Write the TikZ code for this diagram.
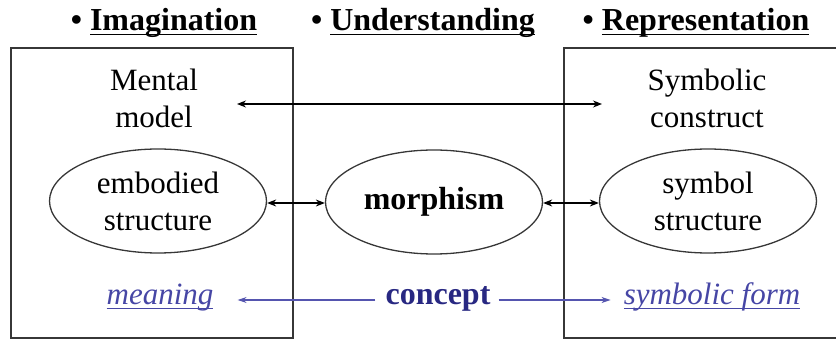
\documentclass[tikz,border=0pt]{standalone}
\usepackage{fontspec}
\setmainfont{LiberationSerif}[Extension=.ttf, UprightFont=*-Regular, BoldFont=*-Bold, ItalicFont=*-Italic, BoldItalicFont=*-BoldItalic]
\usetikzlibrary{shapes.geometric,arrows.meta,calc}
\definecolor{linegray}{RGB}{55,55,55}
\definecolor{conceptblue}{RGB}{40,40,130}
\definecolor{formblue}{RGB}{70,70,165}
\definecolor{arrowblue}{RGB}{85,85,175}
% underline at a fixed distance below the baseline, ignoring descenders
\newcommand{\lowline}[1]{\leavevmode\setbox0\hbox{#1}\dp0=0pt\vtop{\box0\kern3pt\hrule height 1.2pt}}
\tikzset{
  heading/.style={anchor=base, inner sep=0pt, font=\fontsize{32}{38}\selectfont\bfseries},
  bodytext/.style={align=center, inner sep=0pt, font=\fontsize{31}{37}\selectfont},
  blob/.style={ellipse, draw=linegray, line width=1.3pt, inner sep=0pt,
    minimum width=217pt, minimum height=104pt, align=center,
    font=\fontsize{31}{37}\selectfont},
  frame/.style={draw=linegray, line width=1.8pt},
  link/.style={draw=black, line width=1.2pt, {Stealth[length=9pt,width=7pt]}-{Stealth[length=9pt,width=7pt]}},
  bluelink/.style={draw=arrowblue, line width=1.2pt, -{Stealth[length=9pt,width=6pt]}},
  bluetext/.style={anchor=base, inner sep=0pt, font=\fontsize{31}{37}\selectfont},
}
\begin{document}
\begin{tikzpicture}[x=1pt,y=-1pt]
\useasboundingbox (0,0) rectangle (836,339);

% section headings
\node[heading] (himag) at (164,31) {\textbullet\ \lowline{Imagination}};
\node[heading] (hund)  at (423,31) {\textbullet\ \lowline{Understanding}};
\node[heading] (hrep)  at (696,31) {\textbullet\ \lowline{Representation}};

% side frames (the right one runs off the page edge)
\draw[frame] (11,48) rectangle (293,338);
\draw[frame] (845,48) -- (564,48) -- (564,338) -- (845,338);

% top row
\node[bodytext] (mental) at (154,98) {Mental\\model};
\node[bodytext] (symcon) at (707,98) {Symbolic\\construct};
\coordinate (mentalend) at (237,104);
\coordinate (symconend) at (602,104);
\draw[link] (mentalend) -- (symconend);

% structures
\node[blob] (embodied) at (158,201) {embodied\\structure};
\node[blob] (morph) at (434,202) {\bfseries\fontsize{32}{38}\selectfont morphism};
\node[blob] (symbol) at (708,201) {symbol\\structure};
\draw[link] ($(embodied.east)+(0,2)$) -- ($(morph.west)+(0,1)$);
\draw[link] ($(morph.east)+(0,1)$) -- ($(symbol.west)+(0,2)$);

% bottom row: the arrows run level at y = 300
\node[bluetext, text=conceptblue, font=\fontsize{32}{38}\selectfont\bfseries] (concept) at (438,305) {concept};
\node[bluetext, text=formblue] (meaning) at (160,305) {\itshape\lowline{meaning}};
\node[bluetext, text=formblue] (symform) at (712,305) {\itshape\lowline{symbolic form}};
\coordinate (row) at (0,300);
\draw[bluelink] ($(concept.west |- row)+(-10,0)$) -- ($(meaning.east |- row)+(24,0)$);
\draw[bluelink] ($(concept.east |- row)+(8,0)$) -- ($(symform.west |- row)+(-13,0)$);
\end{tikzpicture}
\end{document}
